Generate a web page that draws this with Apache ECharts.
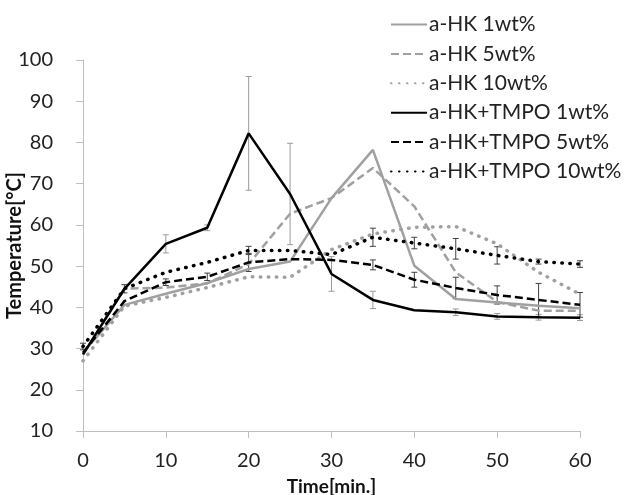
<!DOCTYPE html>
<html>
<head>
<meta charset="utf-8">
<script src="https://cdn.jsdelivr.net/npm/echarts@6/dist/echarts.min.js"></script>
<style>html,body{margin:0;padding:0;background:#fff;}#c{width:626px;height:495px;}</style>
</head>
<body>
<div id="c"></div>
<script>
var times = [0, 5, 10, 15, 20, 25, 30, 35, 40, 45, 50, 55, 60];
var xTicks = [0, 10, 20, 30, 40, 50, 60];
var yTicks = [10, 20, 30, 40, 50, 60, 70, 80, 90, 100];
var names = ['a-HK 1wt%', 'a-HK 5wt%', 'a-HK 10wt%', 'a-HK+TMPO 1wt%', 'a-HK+TMPO 5wt%', 'a-HK+TMPO 10wt%'];
var hk1  = [29.0, 40.6, 43.3, 45.9, 49.3, 51.1, 66.5, 78.2, 50.1, 42.0, 41.2, 40.4, 39.8];
var hk5  = [28.5, 44.5, 44.8, 45.8, 50.5, 62.7, 66.5, 73.8, 64.5, 48.5, 41.3, 39.2, 39.2];
var hk10 = [27.0, 40.3, 42.4, 44.8, 47.4, 47.3, 54.0, 57.8, 59.4, 59.6, 55.4, 48.5, 43.2];
var t1   = [28.6, 44.5, 55.4, 59.3, 82.2, 67.5, 48.1, 41.8, 39.3, 38.8, 37.8, 37.6, 37.5];
var t5   = [29.0, 41.5, 46.1, 47.4, 50.9, 51.7, 51.5, 50.3, 46.7, 44.7, 43.0, 41.8, 40.6];
var t10  = [30.5, 44.5, 48.5, 50.9, 53.8, 53.8, 52.8, 57.0, 55.6, 54.2, 52.6, 51.1, 50.5];
var t1Err  = [0, 0, 2.2, 0.7, 13.8, 12.3, 4.2, 2.1, 0, 0.8, 0.7, 0.7, 0.7];
var t5Err  = [0, 0, 0.8, 0.9, 2.2, 0, 0, 1.2, 1.8, 2.6, 2.2, 4.0, 3.0];
var t10Err = [0.8, 1.0, 0, 0, 1.0, 0, 0, 2.2, 1.4, 2.5, 2.1, 0.6, 0.8];

var GRAY = '#a0a0a0';
function pairs(v) { return times.map(function (t, i) { return [t, v[i]]; }); }
function lineSeries(name, vals, color, type, width, cap) {
  return {
    name: name, type: 'line', data: pairs(vals), symbol: 'none', smooth: false,
    lineStyle: { color: color, width: width, type: type, cap: cap || 'butt' },
    itemStyle: { color: color }, z: 3
  };
}
function errSeries(vals, errs, color) {
  var d = [];
  times.forEach(function (t, i) { if (errs[i] > 0) d.push([t, vals[i] - errs[i], vals[i] + errs[i]]); });
  return {
    type: 'custom', data: d, z: 2, silent: true,
    renderItem: function (params, api) {
      var lo = api.coord([api.value(0), api.value(1)]);
      var hi = api.coord([api.value(0), api.value(2)]);
      var w = 3;
      var st = { stroke: color, lineWidth: 1 };
      return { type: 'group', children: [
        { type: 'line', shape: { x1: lo[0], y1: lo[1], x2: hi[0], y2: hi[1] }, style: st },
        { type: 'line', shape: { x1: lo[0] - w, y1: lo[1], x2: lo[0] + w, y2: lo[1] }, style: st },
        { type: 'line', shape: { x1: hi[0] - w, y1: hi[1], x2: hi[0] + w, y2: hi[1] }, style: st }
      ]};
    }
  };
}
var FONT = 'Lato';
var chart = echarts.init(document.getElementById('c'));
chart.setOption({
  animation: false,
  backgroundColor: '#fff',
  textStyle: { fontFamily: FONT },
  grid: { left: 83, right: 46, top: 60, bottom: 64, containLabel: false, outerBoundsMode: 'none' },
  legend: {
    data: names, orient: 'vertical', left: 385, top: 9,
    itemWidth: 36, itemHeight: 14, itemGap: 8.4,
    itemStyle: { opacity: 0 },
    textStyle: { fontFamily: FONT, fontSize: 21, color: '#222', lineHeight: 20, padding: [0, 0, 0, -3] }
  },
  xAxis: {
    type: 'value', min: 0, max: 60, interval: 10,
    name: 'Time[min.]', nameLocation: 'middle', nameGap: 46,
    nameTextStyle: { fontFamily: FONT, fontSize: 19, fontWeight: 'bold', color: '#111' },
    axisLine: { lineStyle: { color: '#bfbfbf', width: 1 } },
    axisTick: { show: true, length: 7, lineStyle: { color: '#bfbfbf' } },
    axisLabel: { fontFamily: FONT, fontSize: 20, color: '#222', margin: 20,
      formatter: function (v) { return xTicks.indexOf(v) >= 0 ? String(v) : ''; } },
    splitLine: { show: false }
  },
  yAxis: {
    type: 'value', min: 10, max: 100, interval: 10,
    name: 'Temperature[°C]', nameLocation: 'middle', nameGap: 58, nameRotate: 90,
    nameMoveOverlap: false,
    nameTextStyle: { fontFamily: FONT, fontSize: 20, fontWeight: 'bold', color: '#111' },
    axisLine: { show: true, lineStyle: { color: '#bfbfbf', width: 1 } },
    axisTick: { show: true, length: 7, lineStyle: { color: '#bfbfbf' } },
    axisLabel: { fontFamily: FONT, fontSize: 20, color: '#222', margin: 30,
      formatter: function (v) { return yTicks.indexOf(v) >= 0 ? String(v) : ''; } },
    splitLine: { show: false }
  },
  series: [
    errSeries(t1, t1Err, '#9a9a9a'),
    errSeries(t5, t5Err, '#404040'),
    errSeries(t10, t10Err, '#404040'),
    lineSeries(names[0], hk1, GRAY, 'solid', 2.5),
    lineSeries(names[1], hk5, GRAY, [8, 4], 2.5),
    lineSeries(names[2], hk10, GRAY, [0.5, 7.5], 3.5, 'round'),
    lineSeries(names[3], t1, '#000', 'solid', 2.5),
    lineSeries(names[4], t5, '#000', [8, 4], 2.5),
    lineSeries(names[5], t10, '#000', [0.5, 7.5], 3.5, 'round')
  ]
});
</script>
</body>
</html>
